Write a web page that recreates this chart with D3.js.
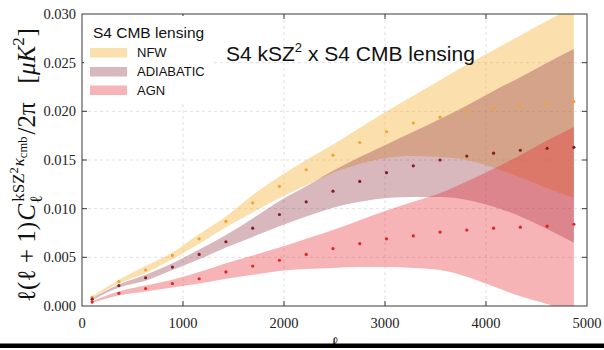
<!DOCTYPE html>
<html><head><meta charset="utf-8">
<script src="https://cdn.jsdelivr.net/npm/d3@7"></script>
<style>body{margin:0;background:#fff}svg{display:block}</style>
</head><body>
<svg id="c" width="604" height="350"></svg>
<script>
// ---- data ----
const ell = [100,365,630,895,1160,1425,1690,1955,2220,2485,2750,3015,3280,3545,3810,4075,4340,4605,4870];
const nfw   = [0.0009,0.0025,0.0037,0.0052,0.0069,0.0087,0.0106,0.0123,0.0140,0.0155,0.0168,0.0179,0.0188,0.0194,0.0200,0.0203,0.0206,0.0208,0.0210];
const nfwHi = [0.0010,0.0027,0.0041,0.0055,0.0074,0.0092,0.0114,0.0133,0.0150,0.0166,0.0183,0.0200,0.0216,0.0232,0.0248,0.0263,0.0278,0.0293,0.0308];
const nfwLo = [0.0008,0.0023,0.0034,0.0048,0.0064,0.0081,0.0096,0.0111,0.0124,0.0137,0.0146,0.0152,0.0154,0.0153,0.0150,0.0142,0.0132,0.0121,0.0111];
const adi   = [0.0007,0.0021,0.0029,0.0040,0.0053,0.0066,0.0080,0.0094,0.0107,0.0118,0.0128,0.0137,0.0144,0.0150,0.0154,0.0157,0.0160,0.0162,0.0163];
const adiHi = [0.0008,0.0022,0.0032,0.0044,0.0058,0.0073,0.0090,0.0108,0.0123,0.0139,0.0153,0.0166,0.0179,0.0192,0.0206,0.0221,0.0235,0.0250,0.0264];
const adiLo = [0.0006,0.0019,0.0026,0.0037,0.0048,0.0060,0.0071,0.0082,0.0092,0.0101,0.0107,0.0111,0.0112,0.0112,0.0109,0.0102,0.0092,0.0079,0.0065];
const agn   = [0.0004,0.0013,0.0018,0.0023,0.0028,0.0035,0.0041,0.0047,0.0053,0.0059,0.0064,0.0069,0.0072,0.0076,0.0078,0.0080,0.0081,0.0082,0.0084];
const agnHi = [0.0005,0.0015,0.0021,0.0027,0.0035,0.0044,0.0052,0.0060,0.0069,0.0078,0.0088,0.0098,0.0107,0.0116,0.0128,0.0141,0.0155,0.0170,0.0184];
const agnLo = [0.0003,0.0011,0.0015,0.0019,0.0023,0.0028,0.0032,0.0036,0.0038,0.0039,0.0040,0.0040,0.0039,0.0037,0.0030,0.0020,0.0010,0.0002,-0.0008];
const xTicks = [0,1000,2000,3000,4000,5000];
const yTicks = [0,0.005,0.010,0.015,0.020,0.025,0.030];
const seriesNames = ["NFW","ADIABATIC","AGN"];
const legendTitle = "S4 CMB lensing";

const series = [
  {name:seriesNames[0], c:nfw, lo:nfwLo, hi:nfwHi, fill:"rgb(245,180,60)", a:0.42, dot:"rgb(240,163,45)"},
  {name:seriesNames[1], c:adi, lo:adiLo, hi:adiHi, fill:"rgb(150,60,75)", a:0.37, dot:"rgb(128,30,38)"},
  {name:seriesNames[2], c:agn, lo:agnLo, hi:agnHi, fill:"rgb(232,40,50)", a:0.35, dot:"rgb(226,35,35)"}
];

const svg = d3.select("#c");
const L=82, R=587, T=14, B=306;
const x = d3.scaleLinear().domain([0,5000]).range([L,R]);
const y = d3.scaleLinear().domain([0,0.030]).range([B,T]);
const serif = "'Liberation Serif','DejaVu Serif',serif";
const sans = "'Liberation Sans',Arial,sans-serif";

svg.append("defs").append("clipPath").attr("id","clip")
  .append("rect").attr("x",L).attr("y",T).attr("width",R-L).attr("height",B-T);

// grid
const grid = svg.append("g").attr("stroke","#d8d8d8").attr("stroke-width",0.8).attr("stroke-dasharray","3,3");
xTicks.slice(1,-1).forEach(t=>grid.append("line").attr("x1",x(t)).attr("x2",x(t)).attr("y1",T).attr("y2",B));
yTicks.slice(1,-1).forEach(t=>grid.append("line").attr("x1",L).attr("x2",R).attr("y1",y(t)).attr("y2",y(t)));

// bands
const gB = svg.append("g").attr("clip-path","url(#clip)");
series.forEach(s=>{
  const area = d3.area().x((d,i)=>x(ell[i])).y0((d,i)=>y(s.lo[i])).y1((d,i)=>y(s.hi[i])).curve(d3.curveMonotoneX);
  gB.append("path").datum(ell).attr("d",area).attr("fill",s.fill).attr("fill-opacity",s.a);
});
series.forEach(s=>{
  gB.append("g").selectAll("circle").data(ell).join("circle")
    .attr("cx",(d)=>x(d)).attr("cy",(d,i)=>y(s.c[i])).attr("r",1.6).attr("fill",s.dot);
});

// frame + ticks
const fr = svg.append("g").attr("stroke","#3a3a3a").attr("stroke-width",1).attr("fill","none");
fr.append("rect").attr("x",L).attr("y",T).attr("width",R-L).attr("height",B-T);
xTicks.slice(1,-1).forEach(t=>{
  fr.append("line").attr("x1",x(t)).attr("x2",x(t)).attr("y1",B).attr("y2",B-5);
  fr.append("line").attr("x1",x(t)).attr("x2",x(t)).attr("y1",T).attr("y2",T+5);
});
yTicks.slice(1,-1).forEach(t=>{
  fr.append("line").attr("x1",L).attr("x2",L+5).attr("y1",y(t)).attr("y2",y(t));
  fr.append("line").attr("x1",R).attr("x2",R-5).attr("y1",y(t)).attr("y2",y(t));
});

// tick labels
const fmtY = d3.format(".3f");
svg.append("g").selectAll("text").data(yTicks).join("text")
  .attr("x",76).attr("y",d=>y(d)).attr("dy","0.35em").attr("text-anchor","end")
  .attr("font-family",serif).attr("font-size",14.5).attr("fill","#222").text(d=>fmtY(d));
svg.append("g").selectAll("text").data(xTicks).join("text")
  .attr("x",d=>x(d)).attr("y",328).attr("text-anchor","middle")
  .attr("font-family",serif).attr("font-size",14.5).attr("fill","#222").text(d=>d);

// legend
const lg = svg.append("g");
lg.append("rect").attr("x",84).attr("y",16).attr("width",128).attr("height",88).attr("fill","#fff");
lg.append("text").attr("x",93).attr("y",37.5).attr("font-family",sans).attr("font-size",15.5).attr("fill","#111").text(legendTitle);
series.forEach((s,i)=>{
  const yy = [48,67,85.5][i];
  lg.append("rect").attr("x",90).attr("y",yy).attr("width",37).attr("height",9.5).attr("fill",s.fill).attr("fill-opacity",s.a);
  lg.append("text").attr("x",137).attr("y",yy+9).attr("font-family",sans).attr("font-size",13).attr("fill","#111").text(s.name);
});

// title
const tt = svg.append("text").attr("x",226).attr("y",61).attr("font-family",sans).attr("font-size",21).attr("fill","#111");
tt.append("tspan").text("S4 kSZ");
tt.append("tspan").attr("font-size",13).attr("dy",-9).text("2");
tt.append("tspan").attr("dy",9).text(" x S4 CMB lensing");

// y label (math-like layout)
function layoutYLabel(S){
  const g = svg.append("g").attr("class","ylab");
  let cx = 0;
  function put(t,scale,dy,italic,at){
    const el = g.append("text").attr("x",at!==undefined?at:cx).attr("y",dy*S)
      .attr("font-family",serif).attr("font-size",S*scale).attr("fill","#111")
      .attr("font-style",italic?"italic":"normal").text(t);
    const w = el.node().getComputedTextLength();
    return {el,start:(at!==undefined?at:cx),end:(at!==undefined?at:cx)+w};
  }
  let p = put("ℓ(ℓ + 1)",1,0,false); cx = p.end + 0.05*S;
  p = put("C",1,0,true); cx = p.end;
  const base = cx;
  const sub = put("ℓ",0.68,0.28,false,base+0.02*S);
  let sx = base + 0.08*S;
  let q = put("kSZ",0.68,-0.42,false,sx); sx = q.end;
  q = put("2",0.5,-0.68,false,sx); sx = q.end + 0.03*S;
  q = put("κ",0.68,-0.42,true,sx); sx = q.end;
  q = put("cmb",0.5,-0.30,false,sx); sx = q.end;
  cx = Math.max(sub.end, sx) + 0.08*S;
  p = put("/2π",1,0,false); cx = p.end + 0.75*S;
  p = put("[",1,0,false); cx = p.end;
  p = put("μK",1,0,true); cx = p.end;
  p = put("2",0.68,-0.42,false); cx = p.end + 0.02*S;
  p = put("]",1,0,false); cx = p.end;
  return {g,w:cx};
}
let S = 24;
let lab = layoutYLabel(S);
const target = 274;
lab.g.remove();
S = S*target/lab.w;
lab = layoutYLabel(S);
lab.g.attr("transform",`translate(35,302) rotate(-90)`);

// x label and bottom bar
svg.append("text").attr("x",x(2500)).attr("y",348).attr("text-anchor","middle")
  .attr("font-family",serif).attr("font-size",16).attr("fill","#111").text("ℓ");
svg.append("rect").attr("x",0).attr("y",343.5).attr("width",604).attr("height",4.5).attr("fill","#000");
</script>
</body></html>
